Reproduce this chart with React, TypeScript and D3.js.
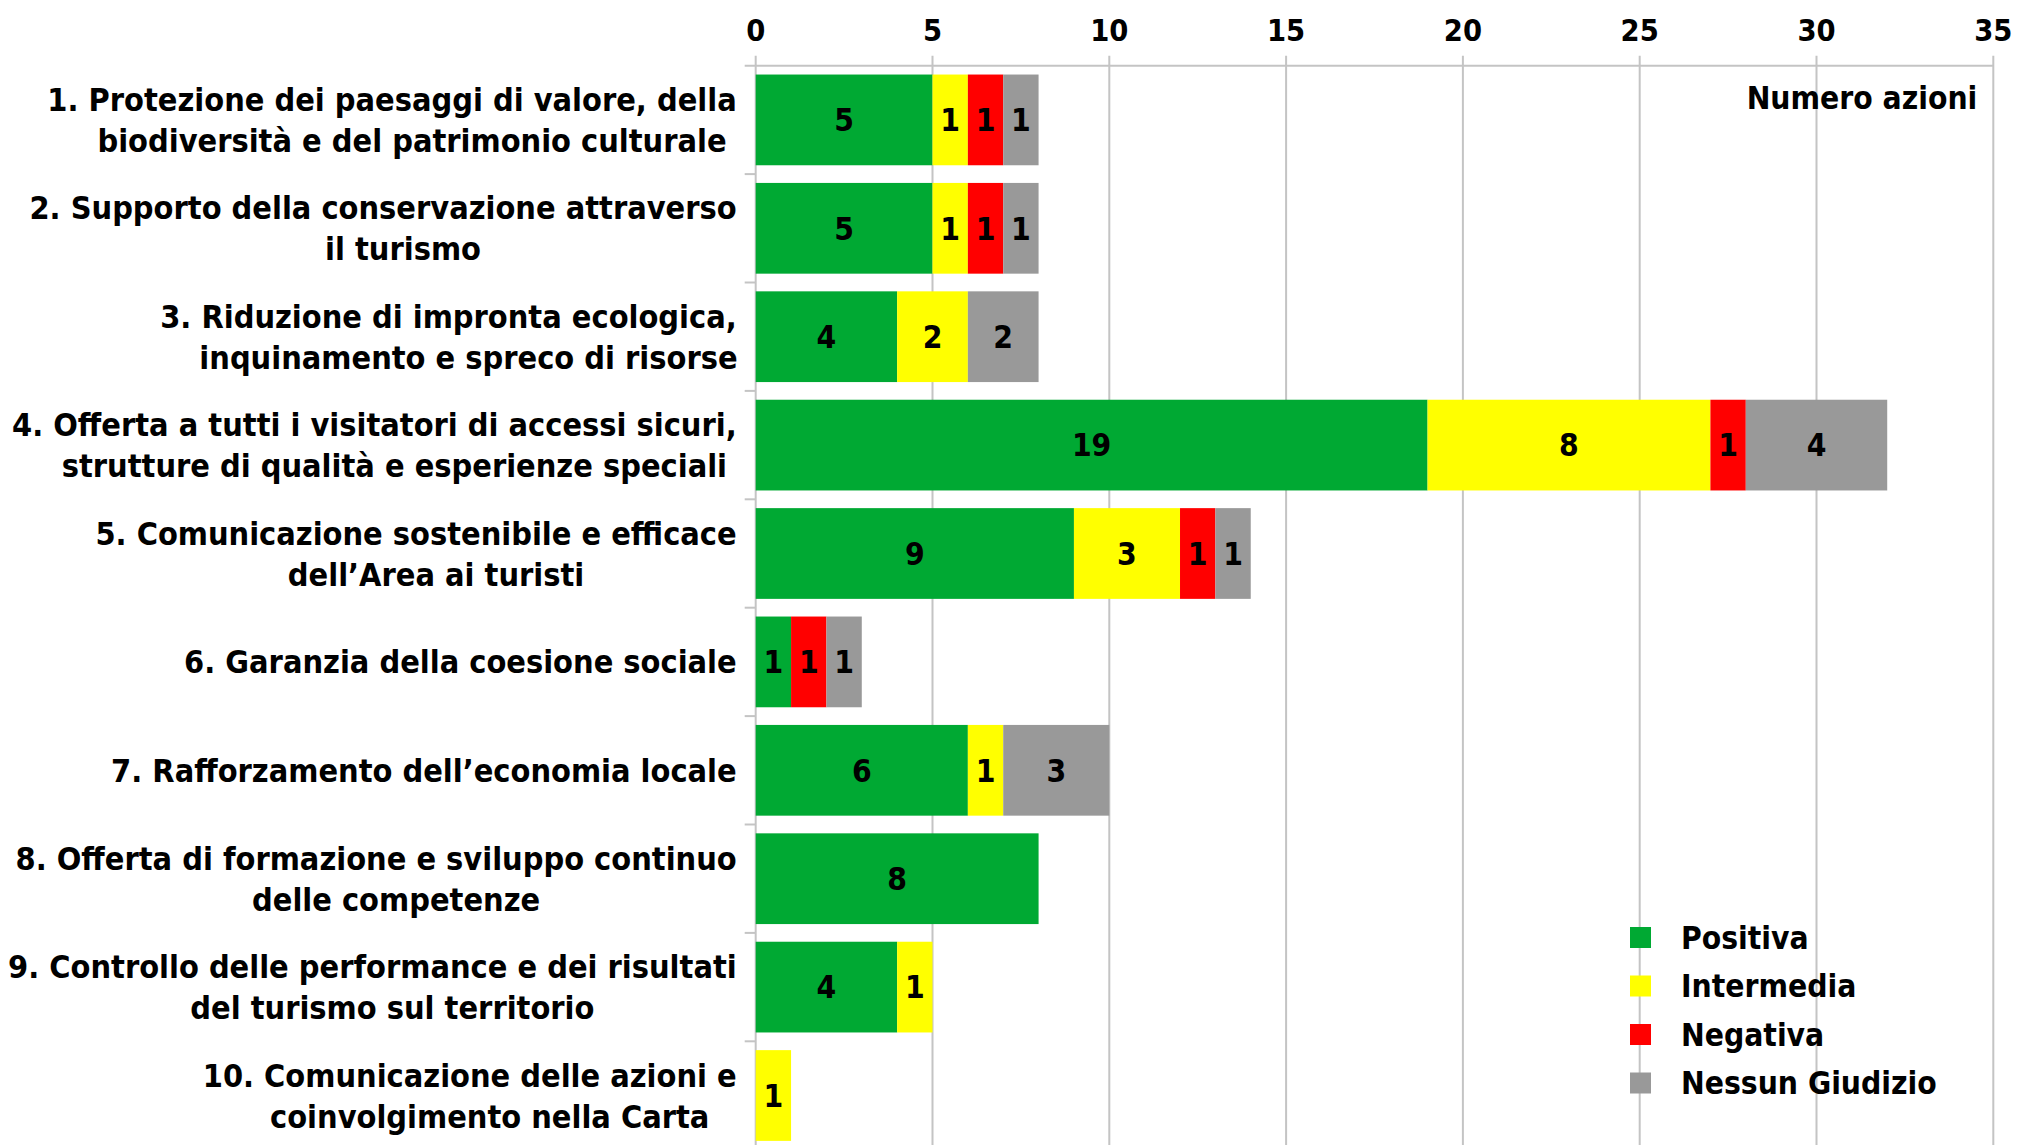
import React, { useRef, useEffect } from "react";
import * as d3 from "d3";

// categories, each split in the lines shown on the chart
const categories = [
  ["1. Protezione dei paesaggi di valore, della", "biodiversità e del patrimonio culturale"],
  ["2. Supporto della conservazione attraverso", "il turismo"],
  ["3. Riduzione di impronta ecologica,", "inquinamento e spreco di risorse"],
  ["4. Offerta a tutti i visitatori di accessi sicuri,", "strutture di qualità e esperienze speciali"],
  ["5. Comunicazione sostenibile e efficace", "dell’Area ai turisti"],
  ["6. Garanzia della coesione sociale"],
  ["7. Rafforzamento dell’economia locale"],
  ["8. Offerta di formazione e sviluppo continuo", "delle competenze"],
  ["9. Controllo delle performance e dei risultati", "del turismo sul territorio"],
  ["10. Comunicazione delle azioni e", "coinvolgimento nella Carta"],
];

const seriesNames = ["Positiva", "Intermedia", "Negativa", "Nessun Giudizio"];
const seriesColors = ["#00A933", "#FFFF00", "#FF0000", "#999999"];

const positiva = [5, 5, 4, 19, 9, 1, 6, 8, 4, 0];
const intermedia = [1, 1, 2, 8, 3, 0, 1, 0, 1, 1];
const negativa = [1, 1, 0, 1, 1, 1, 0, 0, 0, 0];
const nessunGiudizio = [1, 1, 2, 4, 1, 1, 3, 0, 0, 0];

const xTicks = [0, 5, 10, 15, 20, 25, 30, 35];
const axisTitle = "Numero azioni";

const W = 2017;
const H = 1145;
const FONT = "'DejaVu Sans Condensed', 'DejaVu Sans', sans-serif";

const App = () => {
  const ref = useRef<SVGSVGElement>(null);

  useEffect(() => {
    const svg = d3.select(ref.current);
    svg.selectAll("*").remove();

    const margin = { top: 65.7, left: 755.7, right: 23.7 };

    const data = categories.map((c, i) => ({
      idx: i,
      Positiva: positiva[i],
      Intermedia: intermedia[i],
      Negativa: negativa[i],
      "Nessun Giudizio": nessunGiudizio[i],
    }));

    const x = d3.scaleLinear().domain([0, 35]).range([margin.left, W - margin.right]);
    const y = d3
      .scaleBand<number>()
      .domain(data.map((d) => d.idx))
      .range([margin.top, margin.top + 1084])
      .paddingInner(0.163)
      .paddingOuter(0.0815);

    const color = d3.scaleOrdinal<string, string>().domain(seriesNames).range(seriesColors);

    const g = svg
      .append("g")
      .attr("font-family", FONT)
      .attr("font-weight", "bold")
      .attr("font-stretch", "condensed");

    // gridlines + top ticks
    g.selectAll(".grid")
      .data(xTicks)
      .enter()
      .append("line")
      .attr("x1", (d) => x(d))
      .attr("x2", (d) => x(d))
      .attr("y1", margin.top - 10)
      .attr("y2", H)
      .attr("stroke", "#C4C4C4")
      .attr("stroke-width", 2);

    // top axis line
    g.append("line")
      .attr("x1", margin.left - 11)
      .attr("x2", x(35))
      .attr("y1", margin.top)
      .attr("y2", margin.top)
      .attr("stroke", "#C4C4C4")
      .attr("stroke-width", 2);

    // category ticks on the left (band boundaries)
    const step = y.step();
    g.selectAll(".ytick")
      .data(d3.range(1, categories.length))
      .enter()
      .append("line")
      .attr("x1", margin.left - 11)
      .attr("x2", margin.left)
      .attr("y1", (d) => margin.top + d * step)
      .attr("y2", (d) => margin.top + d * step)
      .attr("stroke", "#C4C4C4")
      .attr("stroke-width", 2);

    // stacked bars
    const stacked = d3.stack<any>().keys(seriesNames)(data);

    const groups = g
      .selectAll(".series")
      .data(stacked)
      .enter()
      .append("g")
      .attr("fill", (d) => color(d.key));

    groups
      .selectAll("rect")
      .data((d) => d)
      .enter()
      .append("rect")
      .attr("x", (d) => x(d[0]))
      .attr("y", (d) => y(d.data.idx)!)
      .attr("width", (d) => x(d[1]) - x(d[0]))
      .attr("height", y.bandwidth());

    groups
      .selectAll("text")
      .data((d) => d.filter((s) => s[1] - s[0] > 0))
      .enter()
      .append("text")
      .attr("x", (d) => (x(d[0]) + x(d[1])) / 2)
      .attr("y", (d) => y(d.data.idx)! + y.bandwidth() / 2)
      .attr("dy", "0.36em")
      .attr("text-anchor", "middle")
      .attr("fill", "#000")
      .attr("font-size", 31.5)
      .text((d) => d[1] - d[0]);

    // x tick labels
    g.selectAll(".xlabel")
      .data(xTicks)
      .enter()
      .append("text")
      .attr("x", (d) => x(d))
      .attr("y", 41)
      .attr("text-anchor", "middle")
      .attr("font-size", 30.5)
      .attr("fill", "#000")
      .text((d) => d);

    g.append("text")
      .attr("x", x(35) - 16)
      .attr("y", 109)
      .attr("text-anchor", "end")
      .attr("font-size", 31.5)
      .attr("fill", "#000")
      .text(axisTitle);

    // category labels: first line right aligned, second centred under it
    const labelRight = margin.left - 19;
    const labelSize = 32.2;
    categories.forEach((lines, i) => {
      const cy = y(i)! + y.bandwidth() / 2;
      if (lines.length === 1) {
        g.append("text")
          .attr("x", labelRight)
          .attr("y", cy)
          .attr("dy", "0.36em")
          .attr("text-anchor", "end")
          .attr("font-size", labelSize)
          .attr("fill", "#000")
          .text(lines[0]);
        return;
      }
      const first = g
        .append("text")
        .attr("x", labelRight)
        .attr("y", cy - 20.5)
        .attr("dy", "0.36em")
        .attr("text-anchor", "end")
        .attr("font-size", labelSize)
        .attr("fill", "#000")
        .text(lines[0]);
      const w = (first.node() as SVGTextElement).getComputedTextLength();
      g.append("text")
        .attr("x", labelRight - w / 2 + 20)
        .attr("y", cy + 20.5)
        .attr("dy", "0.36em")
        .attr("text-anchor", "middle")
        .attr("font-size", labelSize)
        .attr("fill", "#000")
        .text(lines[1]);
    });

    // legend
    const legend = g.append("g").attr("transform", "translate(1630, 927)");
    seriesNames.forEach((name, i) => {
      const row = legend.append("g").attr("transform", `translate(0, ${i * 48.5})`);
      row.append("rect").attr("width", 21).attr("height", 21).attr("fill", color(name));
      row
        .append("text")
        .attr("x", 51)
        .attr("y", 10.5)
        .attr("dy", "0.36em")
        .attr("font-size", 31.5)
        .attr("fill", "#000")
        .text(name);
    });
  }, []);

  return (
    <svg
      ref={ref}
      width={W}
      height={H}
      style={{ position: "absolute", left: 0, top: 0, background: "#fff" }}
    ></svg>
  );
};

export default App;
